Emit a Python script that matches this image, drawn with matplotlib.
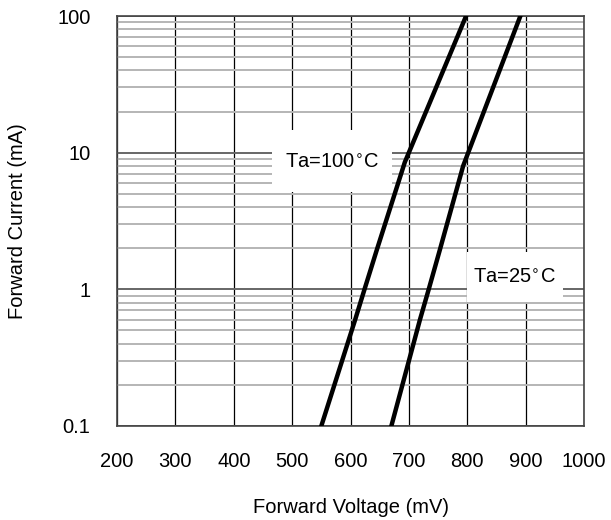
import numpy as np
import matplotlib.pyplot as plt
from matplotlib.patches import Rectangle
from matplotlib.ticker import FixedLocator, NullFormatter

plt.rcParams['font.family'] = ['Liberation Sans', 'DejaVu Sans']

# Forward voltage (mV) vs forward current (mA)
vf_100 = [550, 608, 624, 645, 693, 798]
if_100 = [0.1, 0.6, 1.0, 1.94, 8.5, 100.0]

vf_25 = [670, 719, 734, 753, 793, 891]
if_25 = [0.1, 0.6, 1.0, 1.94, 8.0, 100.0]

x_ticks = [200, 300, 400, 500, 600, 700, 800, 900, 1000]
y_ticks = [0.1, 1, 10, 100]
y_tick_labels = ['0.1', '1', '10', '100']

fig = plt.figure(figsize=(6.11, 5.2), dpi=100)
ax = fig.add_axes([0.1915, 0.1808, 0.7643, 0.7884])

ax.set_xlim(200, 1000)
ax.set_yscale('log')
ax.set_ylim(0.1, 100)

ax.set_xticks(x_ticks)
ax.set_yticks(y_ticks)
ax.set_yticklabels(y_tick_labels)
minor = [m * 10.0 ** e for e in (-1, 0, 1) for m in range(2, 10)]
ax.yaxis.set_minor_locator(FixedLocator(minor))
ax.yaxis.set_minor_formatter(NullFormatter())

ax.tick_params(axis='both', which='both', length=0, labelsize=14.5, pad=19)

ax.grid(True, axis='x', which='major', color='black', lw=0.9)
ax.grid(True, axis='y', which='major', color='#666666', lw=1.4)
ax.grid(True, axis='y', which='minor', color='#b5b5b5', lw=1.4)
ax.set_axisbelow(True)

for s in ax.spines.values():
    s.set_color('#444444')
    s.set_linewidth(1.2)

# white label boxes covering the grid
ax.add_patch(Rectangle((0.332, 0.571), 0.257, 0.151, transform=ax.transAxes,
                       facecolor='white', edgecolor='none', zorder=1.5))
ax.add_patch(Rectangle((0.749, 0.302), 0.206, 0.122, transform=ax.transAxes,
                       facecolor='white', edgecolor='none', zorder=1.5))

ax.plot(vf_100, if_100, color='black', lw=3.2, zorder=3)
ax.plot(vf_25, if_25, color='black', lw=3.2, zorder=3)

ax.text(568, 8.5, 'Ta=100$^{\\circ}$C', fontsize=14.5, ha='center', va='center', zorder=4)
ax.text(880, 1.23, 'Ta=25$^{\\circ}$C', fontsize=14.5, ha='center', va='center', zorder=4)

ax.set_xlabel('Forward Voltage (mV)', fontsize=14.5, labelpad=19)
ax.set_ylabel('Forward Current (mA)', fontsize=14.5, labelpad=22)

fig.savefig('out.png', dpi=100)
